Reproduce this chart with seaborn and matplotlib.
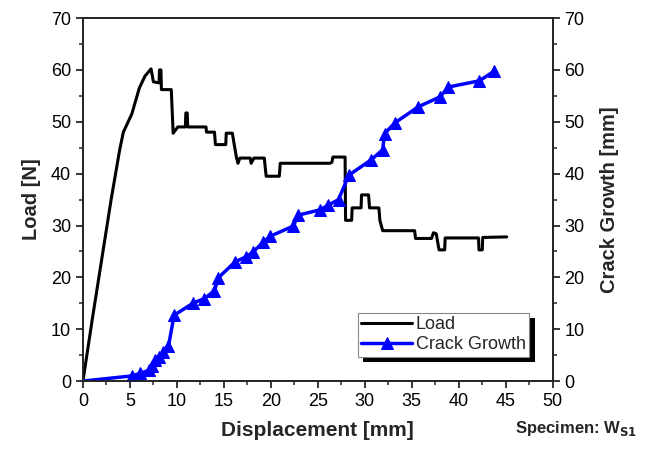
import numpy as np
import pandas as pd
import matplotlib
matplotlib.use("Agg")
import matplotlib.pyplot as plt
import matplotlib.patheffects as pe
from matplotlib.ticker import MultipleLocator
import seaborn as sns

# ---- data ----
load_x = [0, 1, 2, 3, 3.9, 4.3, 5.2, 6.0, 6.6, 7.25, 7.5, 8.1, 8.15, 8.3, 8.35, 9.4, 9.6,
          10.1, 10.9, 10.95, 11.1, 11.15, 13.1, 13.15, 14.0, 14.1, 15.2, 15.25, 15.9, 16.1,
          16.35, 16.5, 16.7, 17.8, 17.9, 18.2, 19.3, 19.5, 20.9, 21.0, 26.3, 26.5, 26.6,
          27.9, 27.95, 28.6, 28.65, 29.6, 29.65, 30.4, 30.5, 31.5, 31.6, 31.9, 35.3, 35.4,
          37.1, 37.3, 37.6, 37.9, 38.5, 38.55, 42.1, 42.15, 42.5, 42.55, 45.1]
load_y = [0, 12, 23.5, 35, 44.5, 48, 51.5, 56.5, 58.8, 60.2, 57.7, 57.5, 60.0, 60.0, 56.2, 56.2, 47.8,
          49.0, 49.0, 51.7, 51.7, 49.0, 49.0, 48.0, 48.0, 45.6, 45.6, 47.8, 47.8, 45.6,
          43.0, 42.0, 43.0, 43.0, 42.0, 43.0, 43.0, 39.5, 39.5, 42.0, 42.0, 42.2, 43.2,
          43.2, 31.0, 31.0, 33.4, 33.4, 35.9, 35.9, 33.4, 33.4, 31.0, 29.0, 29.0, 27.5,
          27.5, 28.6, 28.4, 25.3, 25.3, 27.6, 27.6, 25.3, 25.3, 27.7, 27.8]

crack_x = [0, 5.2, 6.1, 7.05, 7.3, 7.7, 8.1, 8.55, 9.1, 9.7, 11.7, 12.9, 14.0, 14.4, 16.2,
           17.4, 18.1, 19.2, 19.9, 22.4, 22.9, 25.2, 26.1, 27.2, 28.3, 30.7, 31.9, 32.1,
           33.2, 35.7, 38.0, 38.9, 42.2, 43.8]
crack_y = [0, 1.0, 1.5, 2.1, 2.9, 4.0, 4.7, 5.6, 6.7, 12.7, 15.0, 15.9, 17.4, 19.9, 23.0,
           24.0, 24.9, 26.8, 27.9, 29.9, 32.0, 33.0, 33.9, 35.0, 39.7, 42.7, 44.6, 47.7,
           49.8, 52.9, 54.8, 56.7, 57.9, 59.8]

x_ticks = [0, 5, 10, 15, 20, 25, 30, 35, 40, 45, 50]
y_ticks = [0, 10, 20, 30, 40, 50, 60, 70]

load_df = pd.DataFrame({"Displacement": load_x, "Load": load_y})
crack_df = pd.DataFrame({"Displacement": crack_x, "Crack": crack_y})

sns.set_style("ticks")
plt.rcParams["font.family"] = ["Liberation Sans", "DejaVu Sans"]
plt.rcParams["axes.linewidth"] = 1.2

fig = plt.figure(figsize=(6.48, 4.51), dpi=100)
ax = fig.add_axes([0.128, 0.155, 0.725, 0.805])
ax2 = ax.twinx()

sns.lineplot(data=load_df, x="Displacement", y="Load", ax=ax, sort=False,
             estimator=None, color="black", linewidth=2.2, label="Load", legend=False)
sns.lineplot(data=crack_df, x="Displacement", y="Crack", ax=ax2, sort=False,
             estimator=None, color="#0000ff", linewidth=2.5, marker="^",
             markersize=8, markeredgecolor="#0000ff", markevery=list(range(1, len(crack_x))),
             label="Crack Growth", legend=False)

for a in (ax, ax2):
    a.set_ylim(0, 70)
    a.set_xlim(0, 50)
    a.set_yticks(y_ticks)
    a.yaxis.set_minor_locator(MultipleLocator(5))
    a.tick_params(axis="both", which="major", direction="out", length=5, width=1.1,
                  labelsize=13, colors="black")
    a.tick_params(axis="both", which="minor", direction="out", length=3, width=1.1)
    for s in a.spines.values():
        s.set_visible(True)
        s.set_color("#222222")
        s.set_linewidth(1.2)

ax.set_xticks(x_ticks)
ax.xaxis.set_minor_locator(MultipleLocator(2.5))

ax.set_xlabel("Displacement [mm]", fontsize=15, fontweight="bold", labelpad=8)
ax.set_ylabel("Load [N]", fontsize=14.5, fontweight="bold", labelpad=7)
ax2.set_ylabel("Crack Growth [mm]", fontsize=14.5, fontweight="bold", labelpad=11)

h1, l1 = ax.get_legend_handles_labels()
h2, l2 = ax2.get_legend_handles_labels()
leg = ax2.legend(h1 + h2, l1 + l2, loc="upper left", bbox_to_anchor=(0.585, 0.188),
                 fontsize=13, frameon=True, fancybox=False, framealpha=1,
                 handlelength=2.8, handletextpad=0.2, borderpad=0.2, labelspacing=0.15,
                 borderaxespad=0)
frame = leg.get_frame()
frame.set_edgecolor("#888888")
frame.set_linewidth(0.8)
frame.set_path_effects([pe.SimplePatchShadow(offset=(4, -4), shadow_rgbFace="black", alpha=1),
                        pe.Normal()])

fig.text(0.795, 0.028, "Specimen: W$_{\\mathbf{S1}}$", fontsize=12, fontweight="bold",
         ha="left", va="bottom")

fig.savefig("out.png", dpi=100)
